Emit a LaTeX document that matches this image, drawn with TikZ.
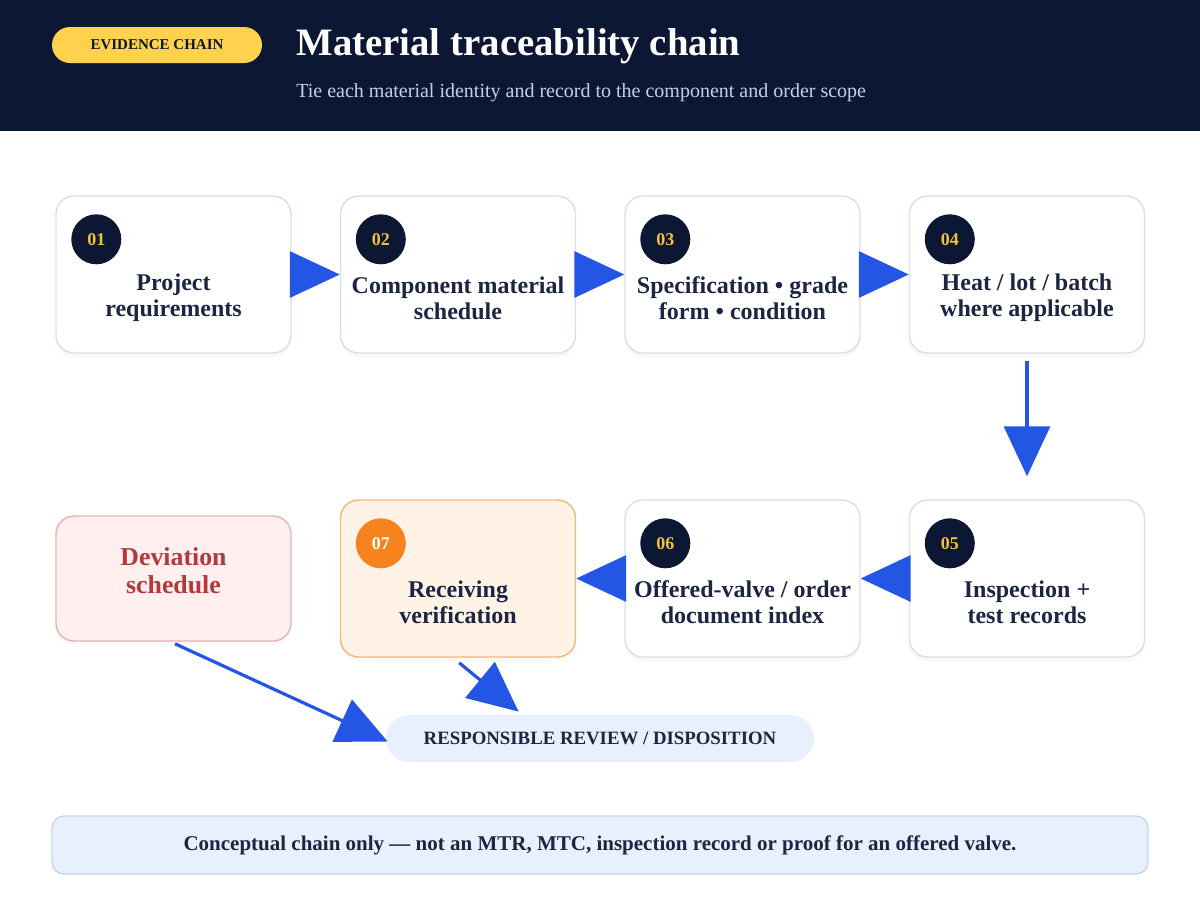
\documentclass[tikz,border=0pt]{standalone}
\usepackage{fontspec}
\setmainfont{Liberation Serif}
\usepackage{xcolor}
\usepackage{tikz}
\usetikzlibrary{positioning, arrows.meta, shadows}
\definecolor{navy}{HTML}{0C1733}
\definecolor{badgegold}{HTML}{FFD24D}
\definecolor{numgold}{HTML}{F2C23A}
\definecolor{flowblue}{HTML}{2456E6}
\definecolor{boxline}{HTML}{D6DFEC}
\definecolor{inkdark}{HTML}{1C2541}
\definecolor{recvfill}{HTML}{FFF3E7}
\definecolor{recvline}{HTML}{F2B77B}
\definecolor{recvdot}{HTML}{F5841F}
\definecolor{devfill}{HTML}{FFEFEF}
\definecolor{devline}{HTML}{E6B3B3}
\definecolor{devtext}{HTML}{B33A3A}
\definecolor{pillfill}{HTML}{E8F0FD}
\definecolor{noteline}{HTML}{C5D5F0}
\definecolor{subgrey}{HTML}{C8D0E0}

\begin{document}
\begin{tikzpicture}[node distance=142.25pt, on grid,
    stage/.style={draw=boxline, fill=white, line width=0.7pt, rounded corners=9pt,
      minimum width=117.5pt, minimum height=78.5pt,
      drop shadow={shadow xshift=0pt, shadow yshift=-2pt, opacity=0.06}},
    num/.style={circle, fill=navy, text=numgold, inner sep=0pt, minimum size=25pt,
      font=\bfseries\fontsize{9}{10}\selectfont},
    txt/.style={align=center, text=inkdark, font=\bfseries\fontsize{12}{13}\selectfont},
    flow/.style={draw=flowblue, line width=1.6pt,
      -{Triangle[length=25pt, width=23pt]}}]
    \useasboundingbox (0pt,0pt) rectangle (600pt,-450pt);
    \fill[navy] (0pt,0pt) rectangle (600pt,-65.5pt);
    \node[fill=badgegold, rounded corners=9pt, minimum width=105pt, minimum height=18pt,
      inner sep=0pt, text=navy, font=\bfseries\fontsize{7.5}{8}\selectfont]
      (badge) at (78.5pt,-22.5pt) {EVIDENCE CHAIN};
    \node[anchor=base west, inner sep=0pt, text=white, font=\bfseries\fontsize{19.4}{22}\selectfont]
      (title) at (148pt,-27.5pt) {Material traceability chain};
    \node[anchor=base west, inner sep=0pt, text=subgrey, font=\fontsize{10}{11}\selectfont]
      (subtitle) at (148pt,-48.5pt) {Tie each material identity and record to the component and order scope};

    \node[stage] (b1) at (86.75pt,-137.25pt) {};
    \node[stage, right=of b1] (b2) {};
    \node[stage, right=of b2] (b3) {};
    \node[stage, right=of b3] (b4) {};
    \node[stage, below=152pt of b4] (b5) {};
    \node[stage, left=of b5] (b6) {};
    \node[stage, left=of b6, fill=recvfill, draw=recvline] (b7) {};
    \node[stage, below=152pt of b1, fill=devfill, draw=devline, minimum height=62.5pt] (dev) {};

    \node[num] (n1) at ([xshift=20.5pt, yshift=-22pt]b1.north west) {01};
    \node[num] (n2) at ([xshift=20.5pt, yshift=-22pt]b2.north west) {02};
    \node[num] (n3) at ([xshift=20.5pt, yshift=-22pt]b3.north west) {03};
    \node[num] (n4) at ([xshift=20.5pt, yshift=-22pt]b4.north west) {04};
    \node[num] (n5) at ([xshift=20.5pt, yshift=-22pt]b5.north west) {05};
    \node[num] (n6) at ([xshift=20.5pt, yshift=-22pt]b6.north west) {06};
    \node[num, fill=recvdot, text=white] (n7) at ([xshift=20.5pt, yshift=-22pt]b7.north west) {07};

    \node[txt] (t1) at ([yshift=-11.75pt]b1.center) {Project\\requirements};
    \node[txt] (t2) at ([yshift=-11.75pt]b2.center) {Component material\\schedule};
    \node[txt] (t3) at ([yshift=-11.75pt]b3.center) {Specification • grade\\form • condition};
    \node[txt] (t4) at ([yshift=-11.75pt]b4.center) {Heat / lot / batch\\where applicable};
    \node[txt] (t5) at ([yshift=-11.75pt]b5.center) {Inspection +\\test records};
    \node[txt] (t6) at ([yshift=-11.75pt]b6.center) {Offered-valve / order\\document index};
    \node[txt] (t7) at ([yshift=-11.75pt]b7.center) {Receiving\\verification};
    \node[txt, text=devtext, font=\bfseries\fontsize{12.9}{14}\selectfont]
      (t8) at ([yshift=4pt]dev.center) {Deviation\\schedule};

    \node[fill=pillfill, rounded corners=11.75pt, minimum width=214pt, minimum height=23.5pt,
      inner sep=0pt, text=inkdark, font=\bfseries\fontsize{9.4}{10}\selectfont]
      (review) at (300pt,-369.25pt) {RESPONSIBLE REVIEW / DISPOSITION};
    \node[fill=pillfill, draw=noteline, line width=0.7pt, rounded corners=6pt,
      minimum width=548pt, minimum height=29pt, inner sep=0pt, text=inkdark,
      font=\bfseries\fontsize{10.5}{11}\selectfont]
      (note) at (300pt,-422.5pt) {Conceptual chain only — not an MTR, MTC, inspection record or proof for an offered valve.};

    \draw[flow] (b1.east) -- (b2.west);
    \draw[flow] (b2.east) -- (b3.west);
    \draw[flow] (b3.east) -- (b4.west);
    \draw[flow, shorten <=3.5pt, shorten >=11.5pt] (b4.south) -- (b5.north);
    \draw[flow] (b5.west) -- (b6.east);
    \draw[flow] (b6.west) -- (b7.east);
    \draw[flow, shorten <=2.5pt] ([xshift=-1.5pt]dev.south) -- ([xshift=1pt, yshift=-1.5pt]review.west);
    \draw[flow, shorten <=4pt] ([xshift=-2.5pt]b7.south) -- ([xshift=66.5pt, yshift=1.5pt]review.north west);
\end{tikzpicture}
\end{document}
